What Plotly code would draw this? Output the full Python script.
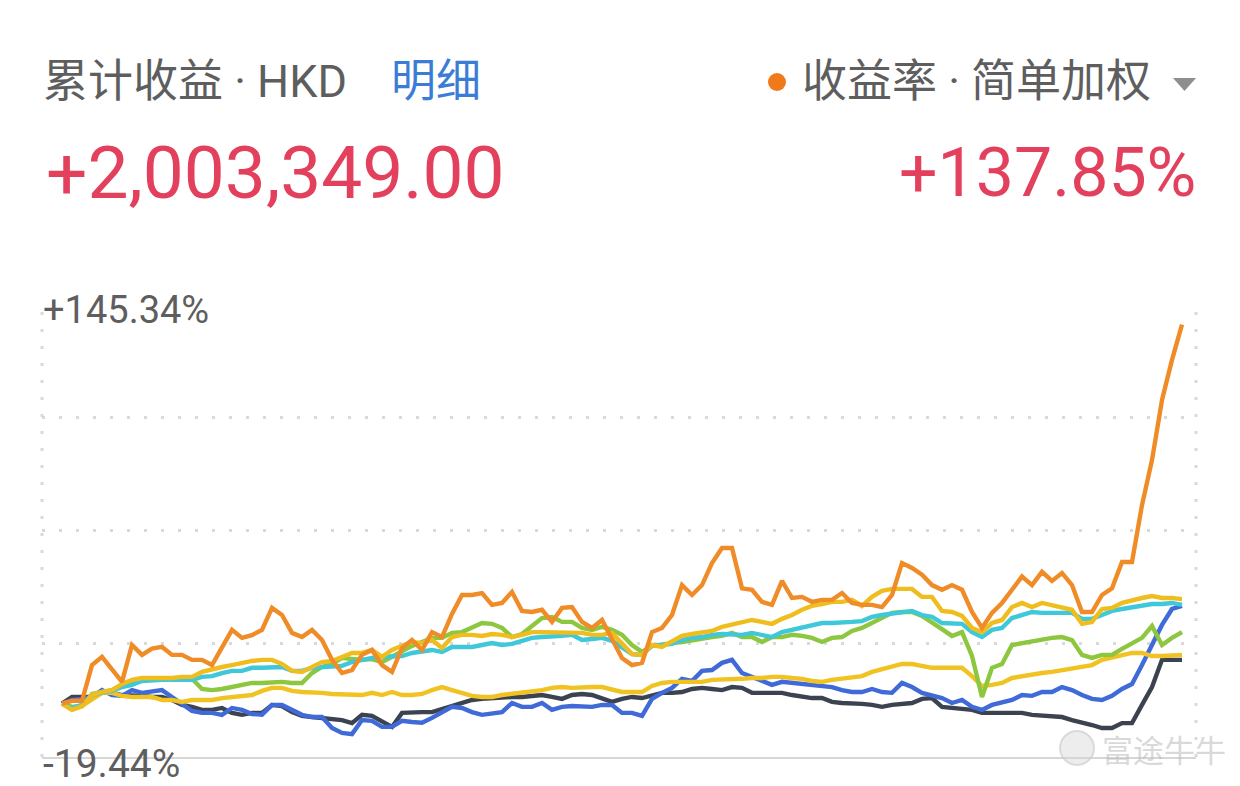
import plotly.graph_objects as go

# ---------------- data (cumulative return, %) ----------------
days = list(range(113))

orange = [0, 1, 1, 14.0, 17.0, 12.2, 7.9, 21.3, 17.7, 20.0,
          20.6, 17.7, 17.7, 15.9, 15.9, 14.0, 20.2, 26.8, 23.9, 24.9,
          26.8, 34.8, 32.2, 25.7, 24.2, 26.8, 23.1, 15.9, 11.1, 12.2,
          17.7, 19.5, 14.0, 11.5, 20.2, 23.1, 19.5, 26.0, 24.2, 32.6,
          39.5, 39.5, 40.2, 35.9, 36.6, 40.6, 33.7, 33.3, 34.1, 29.7,
          34.8, 35.1, 29.7, 27.5, 30.4, 23.1, 16.6, 14.0, 14.8, 26.0,
          27.5, 32.2, 43.1, 39.5, 43.1, 51.1, 56.6, 56.6, 41.9, 41.4,
          37.0, 35.9, 44.6, 38.4, 38.8, 37.0, 37.7, 37.7, 40.2, 36.6,
          35.9, 35.9, 35.1, 39.5, 51.1, 49.3, 46.9, 43.1, 41.4, 43.1,
          41.4, 33.3, 27.5, 33.0, 36.6, 41.4, 46.2, 43.1, 47.9, 44.6,
          47.5, 43.1, 33.3, 33.3, 39.5, 41.9, 51.5, 51.5, 72.2, 88.6,
          110.4, 125.0, 137.85]

yellow_a = [0, -2.3, -0.9, 3.1, 4.2, 4.9, 7.1, 8.6, 9.3, 9.3,
            9.3, 9.3, 9.7, 9.7, 11.5, 12.6, 13.3, 14.0, 14.8, 15.5,
            15.9, 15.9, 14.4, 11.9, 11.5, 13.3, 15.1, 15.5, 17.0, 18.4,
            18.4, 19.5, 17.0, 19.5, 21.0, 22.4, 22.0, 23.1, 20.2, 24.2,
            25.0, 25.0, 24.6, 25.3, 25.0, 24.2, 25.0, 26.0, 26.0, 26.0,
            26.0, 25.7, 25.7, 25.0, 25.0, 25.7, 21.7, 18.0, 17.7, 21.3,
            20.6, 22.8, 24.6, 25.3, 25.7, 26.4, 27.9, 28.6, 29.7, 30.4,
            29.7, 29.0, 30.8, 32.2, 34.1, 35.5, 36.2, 37.0, 37.0, 37.7,
            35.5, 38.8, 41.0, 41.7, 41.7, 41.7, 38.8, 38.8, 33.7, 33.3,
            31.9, 27.5, 26.0, 29.3, 30.4, 35.1, 36.6, 35.1, 36.6, 35.9,
            35.1, 34.1, 29.0, 29.7, 34.4, 34.8, 36.6, 37.7, 38.4, 39.1,
            38.4, 38.4, 38.0]

cyan = [0, -1.6, -0.5, 3.0, 4.0, 4.5, 6.0, 6.8, 8.2, 8.6,
        8.6, 8.6, 8.6, 8.6, 9.7, 10.0, 11.1, 11.9, 11.9, 13.0,
        13.0, 13.3, 13.3, 11.9, 11.9, 13.0, 13.3, 13.3, 13.7, 15.1,
        15.9, 16.6, 17.0, 17.0, 17.3, 18.4, 18.8, 19.5, 18.8, 20.6,
        20.6, 20.6, 21.3, 22.0, 21.3, 21.7, 22.8, 23.9, 24.2, 24.2,
        24.6, 25.0, 23.1, 23.5, 23.9, 22.8, 20.6, 18.0, 17.7, 21.0,
        21.3, 21.7, 23.1, 23.9, 24.2, 25.0, 25.3, 25.3, 25.0, 25.7,
        25.0, 24.2, 26.0, 26.8, 27.5, 28.2, 29.3, 29.3, 29.7, 29.7,
        30.0, 31.5, 32.2, 32.6, 33.3, 33.7, 32.2, 31.5, 29.3, 29.3,
        29.0, 26.0, 24.2, 26.8, 27.5, 31.1, 32.2, 33.3, 33.0, 33.0,
        33.3, 33.0, 30.8, 30.8, 32.2, 33.7, 34.4, 35.1, 35.9, 36.2,
        36.2, 36.6, 35.9]

green = [0, -1.2, -0.9, 3.5, 4.2, 4.9, 6.8, 7.9, 8.6, 9.0,
         9.0, 9.0, 9.0, 9.0, 5.3, 4.9, 5.3, 6.0, 7.1, 7.5,
         7.5, 7.9, 7.9, 7.5, 7.5, 11.1, 13.3, 14.4, 16.6, 16.2,
         15.9, 16.2, 15.1, 17.0, 19.1, 21.0, 22.4, 23.9, 23.9, 25.7,
         26.0, 27.5, 29.3, 29.0, 27.5, 24.2, 25.3, 28.2, 31.1, 31.5,
         29.7, 29.7, 27.5, 26.8, 27.9, 26.8, 25.0, 21.3, 18.8, 21.0,
         21.3, 22.0, 22.4, 23.1, 23.5, 24.2, 24.6, 25.7, 24.2, 24.2,
         22.4, 24.2, 24.2, 25.0, 24.6, 23.9, 22.4, 23.9, 24.2, 26.4,
         27.5, 29.3, 31.5, 33.0, 33.3, 33.3, 31.9, 29.3, 27.1, 24.6,
         26.0, 17.3, 2.4, 13.0, 14.4, 21.3, 22.0, 22.4, 23.1, 23.9,
         24.2, 23.1, 17.7, 16.6, 17.7, 17.7, 19.9, 21.7, 23.9, 28.2,
         21.3, 23.9, 26.0]

yellow_b = [0, -2.3, -0.9, 1.7, 3.9, 3.9, 2.8, 2.4, 2.4, 2.4,
            1.3, 1.3, 0.6, 1.3, 1.3, 1.3, 2.0, 2.4, 2.4, 3.1,
            4.6, 5.7, 5.7, 4.6, 4.2, 4.2, 3.9, 3.5, 3.5, 3.1,
            3.1, 3.9, 3.1, 4.2, 3.1, 3.1, 3.5, 4.9, 6.0, 4.9,
            3.9, 2.8, 2.4, 2.4, 3.1, 3.5, 3.9, 4.2, 4.9, 5.7,
            6.0, 5.7, 6.0, 6.0, 6.0, 4.9, 4.2, 4.2, 4.2, 6.4,
            7.5, 7.9, 7.9, 7.9, 7.9, 8.6, 8.6, 9.0, 9.0, 9.3,
            9.3, 9.7, 9.7, 9.3, 9.0, 8.2, 7.9, 8.6, 9.0, 9.7,
            10.0, 11.5, 12.6, 13.3, 14.4, 14.4, 13.7, 13.0, 13.0, 13.0,
            13.0, 10.0, 6.4, 6.8, 7.5, 9.3, 10.0, 10.4, 11.1, 11.5,
            12.2, 13.0, 13.3, 14.0, 15.9, 16.6, 17.7, 18.4, 18.4, 17.3,
            17.3, 17.7, 17.7]

blue = [0, 1.3, 1.7, 2.4, 4.9, 3.1, 2.8, 4.9, 3.9, 4.2,
        4.9, 2.4, -0.1, -2.7, -3.4, -3.4, -4.1, -1.6, -2.3, -3.8,
        -4.1, -0.5, -0.5, -2.3, -4.1, -4.9, -4.9, -8.9, -10.7, -11.1,
        -6.0, -6.3, -8.5, -8.5, -6.3, -6.7, -7.0, -5.2, -3.1, -1.2,
        -1.6, -3.1, -4.1, -3.4, -3.1, 0.2, -1.2, -1.2, 0.2, -2.3,
        -1.2, -0.9, -0.9, -1.2, -0.5, -0.5, -3.4, -3.4, -4.5, 1.7,
        3.9, 5.7, 9.0, 8.2, 11.9, 12.2, 14.8, 15.9, 11.1, 9.7,
        8.2, 6.8, 7.9, 7.5, 7.1, 6.8, 6.0, 6.0, 4.9, 4.2,
        4.2, 5.3, 4.2, 3.9, 7.5, 6.0, 3.9, 3.1, 2.0, 0.2,
        1.3, -1.2, -2.3, -0.5, 0.6, 1.3, 3.1, 2.8, 4.2, 4.2,
        6.0, 4.9, 3.1, 1.7, 1.3, 2.8, 5.3, 7.1, 14.0, 21.7,
        28.6, 34.4, 35.5]

navy = [0, 2.4, 2.4, 2.4, 3.9, 3.9, 3.1, 3.1, 2.8, 2.4,
        2.4, 1.3, -0.5, -1.2, -2.3, -2.3, -1.6, -3.4, -4.1, -3.4,
        -3.4, -0.5, -0.9, -3.1, -4.5, -4.9, -5.3, -6.0, -6.0, -7.1,
        -4.1, -4.5, -6.7, -8.5, -3.4, -3.1, -3.1, -3.1, -2.0, -1.2,
        -0.1, 1.3, 1.7, 2.0, 2.0, 2.4, 2.4, 2.8, 3.1, 2.4,
        1.7, 3.1, 3.5, 3.1, 2.0, 0.6, 1.7, 2.4, 2.0, 2.8,
        3.9, 3.9, 4.2, 5.3, 5.7, 5.3, 4.9, 6.0, 5.7, 3.9,
        3.9, 3.9, 3.9, 3.1, 2.4, 2.0, 2.0, 0.6, 0.2, 0.2,
        -0.1, -0.5, -1.2, -0.5, -0.1, 0.2, 1.7, 2.0, -1.2, -1.6,
        -1.6, -2.3, -3.4, -3.4, -3.4, -3.4, -3.4, -4.1, -4.5, -4.9,
        -4.9, -6.0, -6.7, -7.8, -8.9, -8.9, -7.1, -7.1, -0.5, 6.0,
        15.9, 15.9, 15.9]

y_min, y_max = -19.44, 145.34
y_grid = [-19.44, 21.755, 62.95, 104.145, 145.34]
y_top_label = "+145.34%"
y_bottom_label = "-19.44%"

title_left = "累计收益 · HKD"
detail_link = "明细"
title_right = "收益率 · 简单加权"
total_amount = "+2,003,349.00"
total_rate = "+137.85%"
watermark = "富途牛牛"

# ---------------- figure ----------------
W, H = 1240, 786
L, R, T, B = 42, 44, 304, 29
PW, PH = W - L - R, H - T - B


def px(x, y):
    return (x - L) / PW, (H - B - y) / PH


fig = go.Figure()

series = [
    (navy, "#3C4350"),
    (blue, "#3F6AD8"),
    (yellow_b, "#F0C322"),
    (green, "#8DC63F"),
    (cyan, "#3FC7DA"),
    (yellow_a, "#EFBE1E"),
    (orange, "#F08C28"),
]
for vals, col in series:
    fig.add_trace(go.Scatter(x=days, y=vals, mode="lines",
                             line=dict(color=col, width=4.4),
                             hoverinfo="skip", showlegend=False))

ann = []
num = "Roboto, Noto Sans CJK SC, sans-serif"


def text(t, x, y, size, color, anchor="left", family=num):
    ax, ay = px(x, y)
    ann.append(dict(text=t, x=ax, y=ay, xref="paper", yref="paper",
                    xanchor=anchor, yanchor="middle", showarrow=False,
                    font=dict(size=size, color=color, family=family)))


text(title_left, 41, 82, 45, "#5E5E5E")
text(detail_link, 389, 82, 45, "#3B7DD6")
text(title_right, 800, 82, 45, "#5E5E5E")
text(total_amount, 44, 173, 73, "#E2405C")
text(total_rate, 1198, 173, 68, "#E2405C", anchor="right")
text(y_top_label, 41, 310, 38, "#5E5E5E")
text(y_bottom_label, 41, 764, 39, "#5E5E5E")
text(watermark, 1100, 748, 31, "rgba(185,185,185,0.55)",
     family="Noto Sans CJK SC, sans-serif")

shapes = []
grid_col = "#D9D9D9"
for xp in (0, 1):
    shapes.append(dict(type="line", xref="paper", yref="paper", x0=xp, x1=xp,
                       y0=0, y1=1, layer="below",
                       line=dict(color=grid_col, width=3, dash="3px,14px")))

# orange legend dot
cx, cy = px(777, 82)
rx, ry = 9 / PW, 9 / PH
shapes.append(dict(type="circle", xref="paper", yref="paper",
                   x0=cx - rx, x1=cx + rx, y0=cy - ry, y1=cy + ry,
                   fillcolor="#F07A1A", line=dict(width=0)))
# dropdown triangle
a = px(1173, 78)
b = px(1196, 78)
c = px(1184.5, 91)
shapes.append(dict(type="path", xref="paper", yref="paper",
                   path=f"M {a[0]} {a[1]} L {b[0]} {b[1]} L {c[0]} {c[1]} Z",
                   fillcolor="#8E8E8E", line=dict(width=0)))
# watermark logo
lx, ly = px(1077, 748)
lrx, lry = 17 / PW, 17 / PH
shapes.append(dict(type="circle", xref="paper", yref="paper",
                   x0=lx - lrx, x1=lx + lrx, y0=ly - lry, y1=ly + lry,
                   fillcolor="rgba(215,215,215,0.45)",
                   line=dict(color="rgba(200,200,200,0.6)", width=2)))

fig.update_layout(
    width=W, height=H,
    margin=dict(l=L, r=R, t=T, b=B),
    paper_bgcolor="white", plot_bgcolor="white",
    showlegend=False,
    annotations=ann, shapes=shapes,
    xaxis=dict(range=[-2, 113.4], showgrid=False, zeroline=False,
               showticklabels=False, ticks="", showline=True,
               linecolor="#D6D6D6", linewidth=2, fixedrange=True),
    yaxis=dict(range=[y_min, y_max], tickvals=y_grid, showticklabels=False,
               ticks="", showgrid=True, gridcolor=grid_col, gridwidth=3,
               griddash="3px,14px", zeroline=False, showline=False,
               fixedrange=True),
)

fig.write_html("out.html", config={"displayModeBar": False})
